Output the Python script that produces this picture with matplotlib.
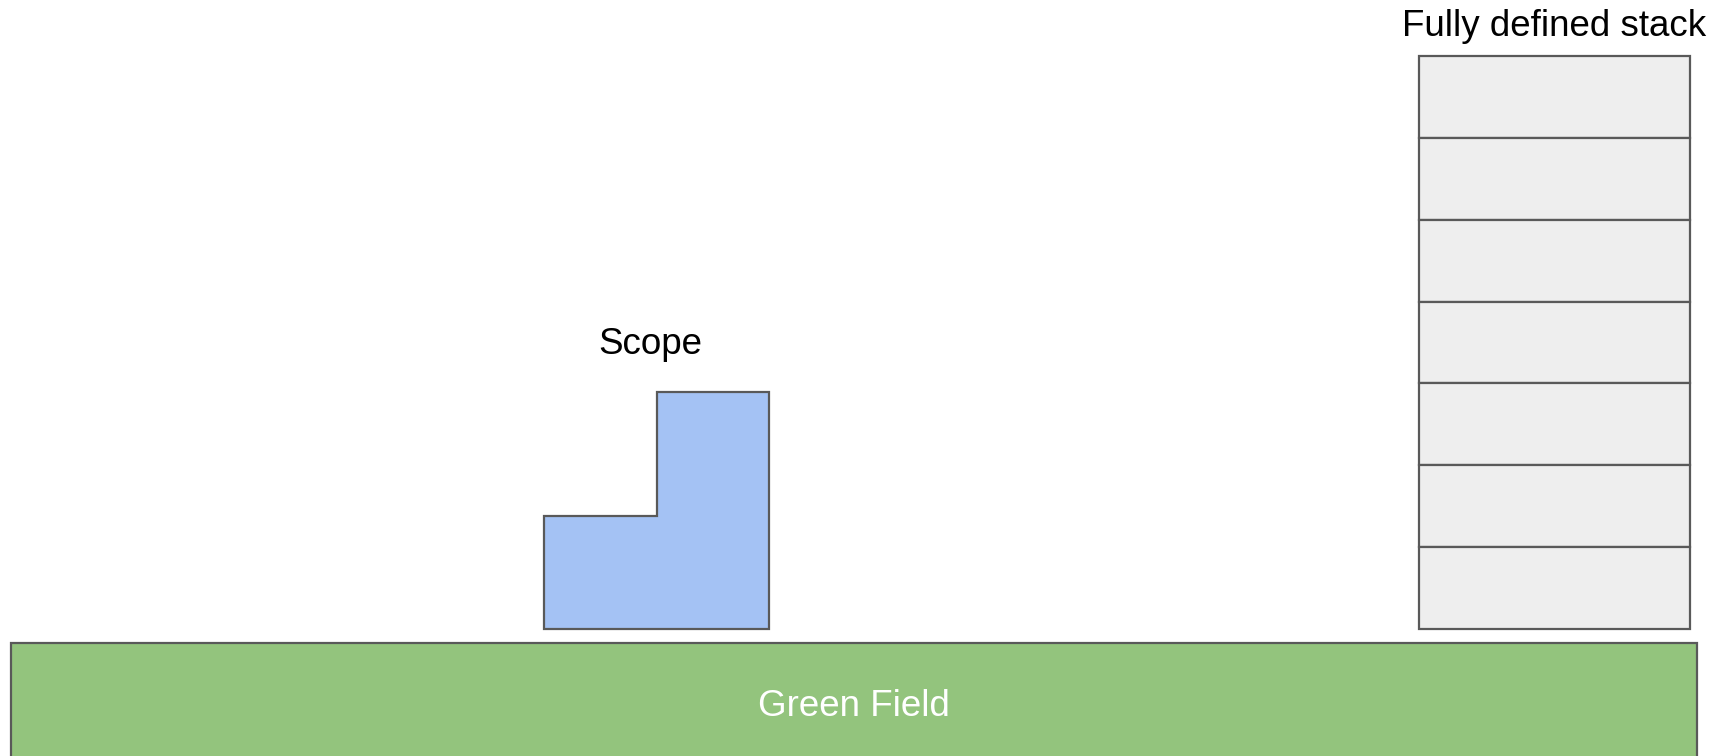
import matplotlib.pyplot as plt
from matplotlib.patches import Polygon, Rectangle

# diagram in pixel-like units (y grows downward)
labels = ['Scope', 'Fully defined stack', 'Green Field']

scope_x = [544, 544, 657, 657, 769, 769]
scope_y = [629, 516, 516, 392, 392, 629]

stack_left, stack_right = 1419, 1690
stack_top, stack_bottom = 56, 629
stack_cells = 7

field_x = [11, 1697]
field_y = [643, 780]

edge = '#595959'
plt.rcParams['font.family'] = ['Liberation Sans', 'DejaVu Sans']

fig = plt.figure(figsize=(17.23, 7.56), dpi=100)
ax = fig.add_axes([0, 0, 1, 1])
ax.set_xlim(0, 1723)
ax.set_ylim(756, 0)
ax.axis('off')

# green field
ax.add_patch(Rectangle((field_x[0], field_y[0]), field_x[1] - field_x[0], field_y[1] - field_y[0],
                       facecolor='#93c47d', edgecolor=edge, lw=1.6))
ax.text((field_x[0] + field_x[1]) / 2, 706, labels[2], color='white', fontsize=26.5,
        ha='center', va='center')

# scope shape
ax.add_patch(Polygon(list(zip(scope_x, scope_y)), closed=True,
                     facecolor='#a4c2f4', edgecolor=edge, lw=1.6))
ax.text(650, 345, labels[0], fontsize=26.5, ha='center', va='center')

# stack
h = (stack_bottom - stack_top) / stack_cells
for i in range(stack_cells):
    ax.add_patch(Rectangle((stack_left, stack_top + i * h), stack_right - stack_left, h,
                           facecolor='#eeeeee', edgecolor=edge, lw=1.6))
ax.text((stack_left + stack_right) / 2, 27, labels[1], fontsize=26.5, ha='center', va='center')

fig.savefig('out.png', dpi=100)
